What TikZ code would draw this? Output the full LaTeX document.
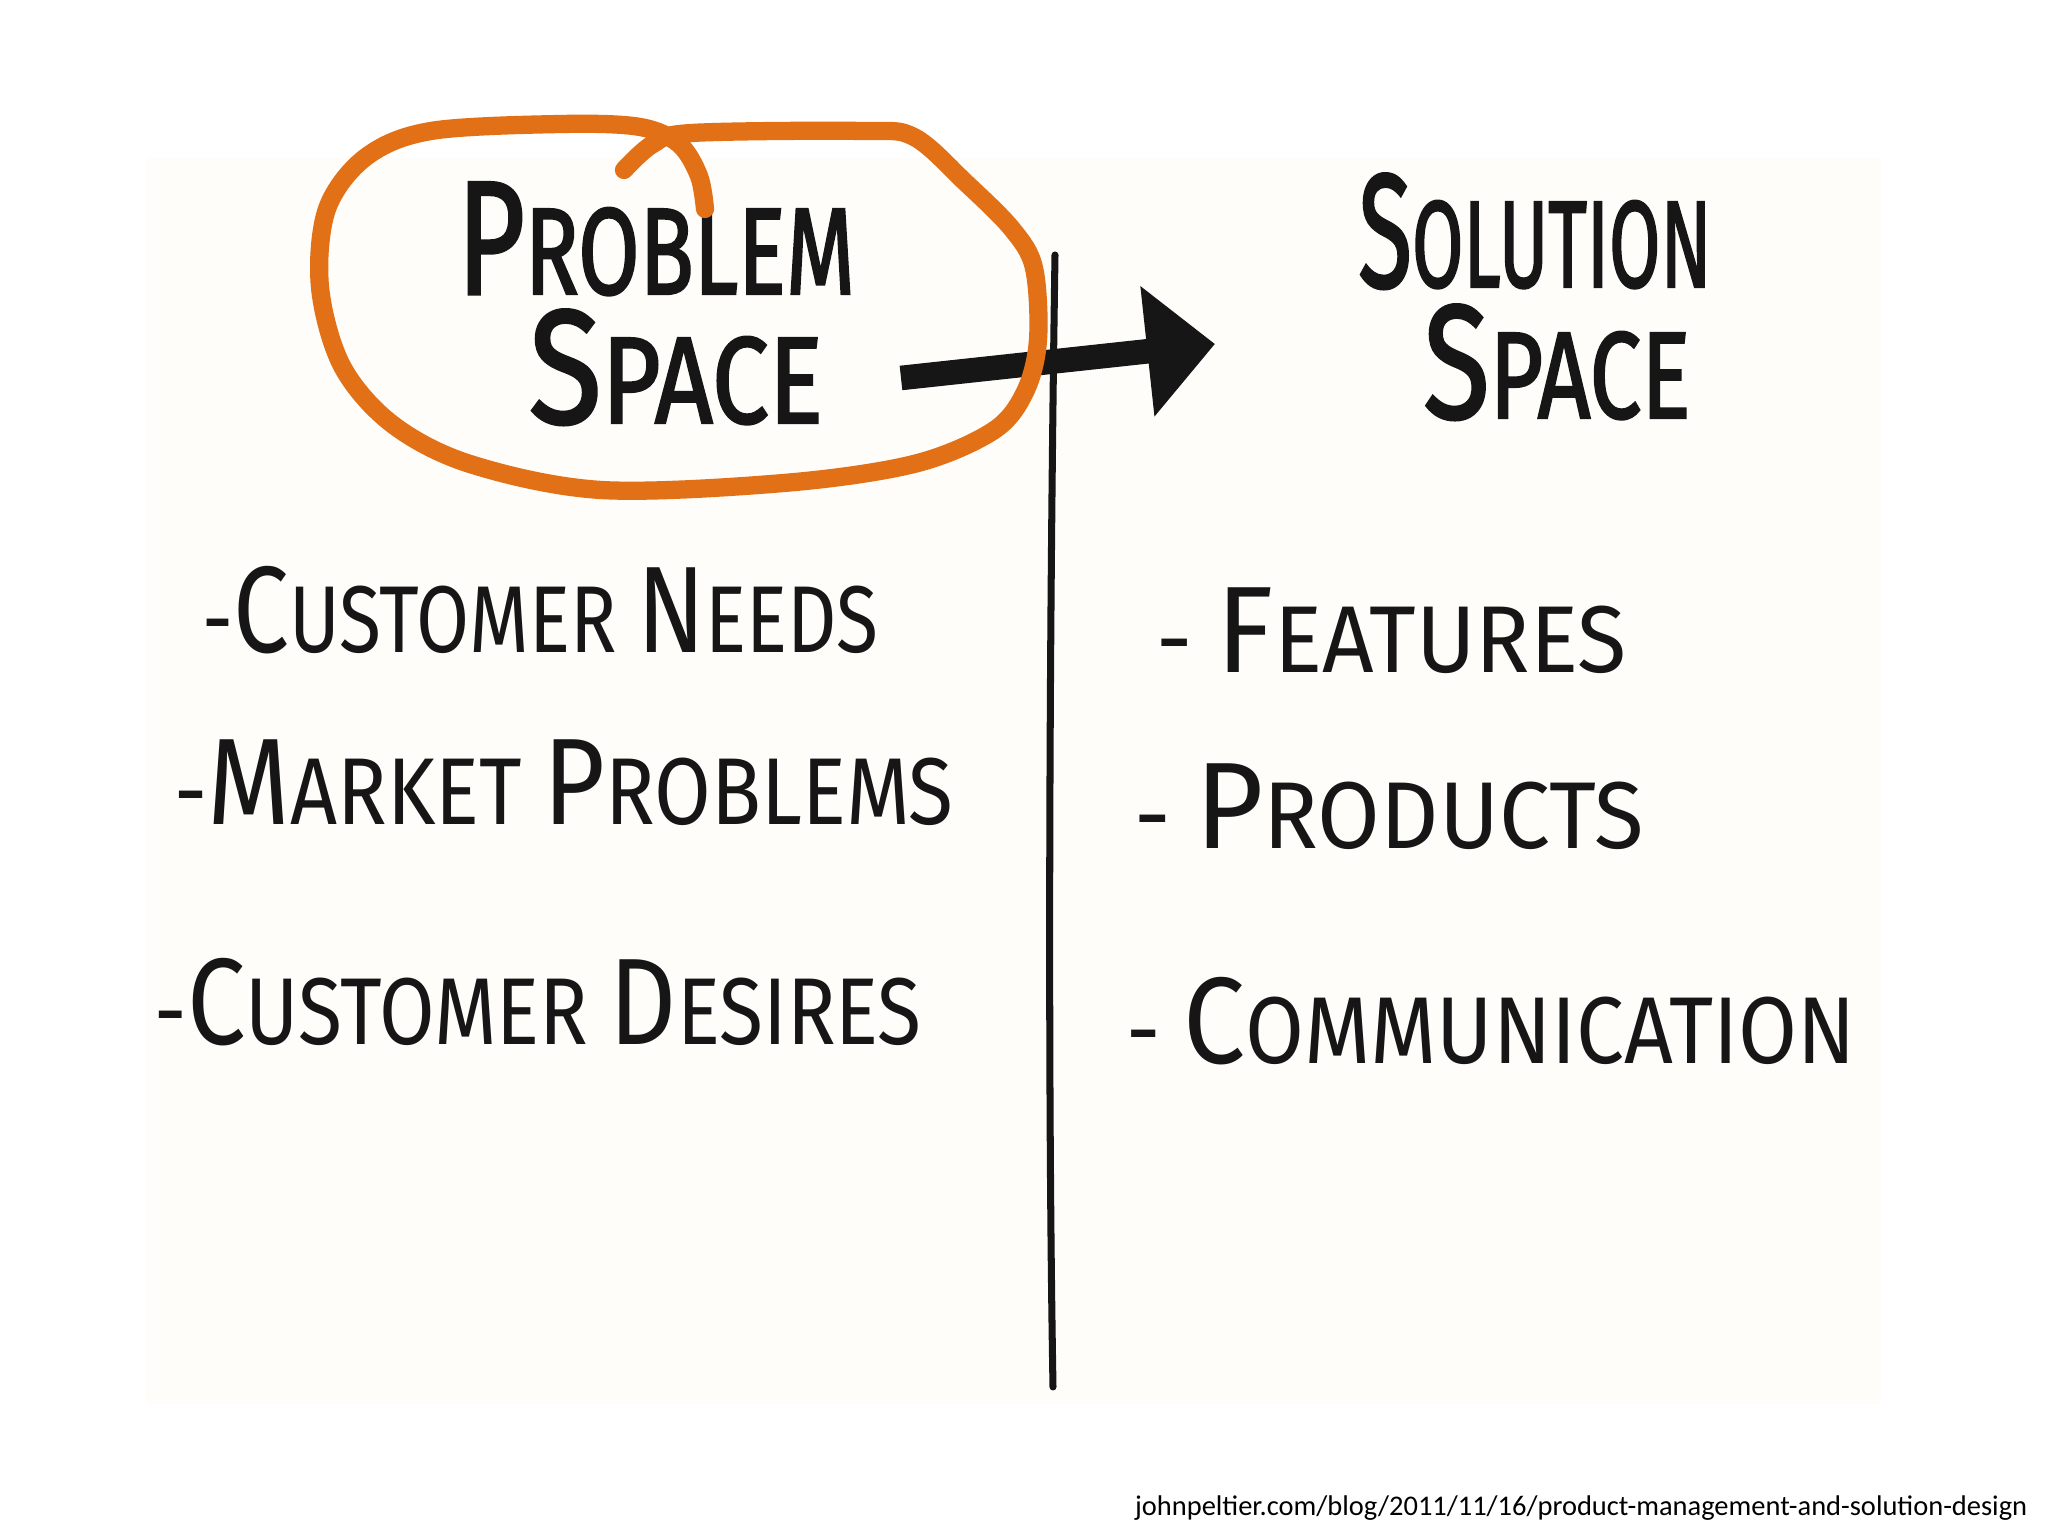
\documentclass[tikz,border=0pt]{standalone}
\usepackage{fontspec}
\setmainfont{Fira Sans}
\newfontfamily\headfont{Fira Sans}[FakeBold=2]
\newfontfamily\urlfont{Carlito}
\usepackage{graphicx}
\usetikzlibrary{arrows.meta}
\definecolor{marker}{RGB}{22,22,22}
\definecolor{ringorange}{RGB}{226,112,22}
\definecolor{paper}{RGB}{254,253,250}
\newcommand{\squeeze}[2]{\resizebox{#1}{\height}{#2}}
\newcommand{\headini}[1]{{\fontsize{46}{46}\selectfont #1}}
\newcommand{\itemini}[1]{{\fontsize{35}{35}\selectfont #1}}
\tikzset{
  heading/.style={font=\headfont\fontsize{35}{40}\selectfont, text=marker, inner sep=0pt, anchor=base},
  listitem/.style={font=\fontsize{27}{30}\selectfont, text=marker, inner sep=0pt, anchor=base west},
}
\begin{document}
\begin{tikzpicture}
    \useasboundingbox (0,0) rectangle (20.48,15.36);
    \fill[white] (0,0) rectangle (20.48,15.36);
    \fill[paper] (1.46,1.32) rectangle (18.81,13.79);

    % headings
    \node[heading] (prob1) at (6.56,12.42) {\squeeze{3.98cm}{\headini{P}ROBLEM}};
    \node[heading] (prob2) at (6.76,11.13) {\squeeze{2.94cm}{\headini{S}PACE}};
    \node[heading] (sol1) at (15.35,12.49) {\squeeze{3.53cm}{\headini{S}OLUTION}};
    \node[heading] (sol2) at (15.57,11.18) {\squeeze{2.67cm}{\headini{S}PACE}};

    % problem side
    \node[listitem] (needs) at (2.02,8.83) {\squeeze{6.76cm}{-\itemini{C}USTOMER \itemini{N}EEDS}};
    \node[listitem] (market) at (1.74,7.11) {\squeeze{7.79cm}{-\itemini{M}ARKET \itemini{P}ROBLEMS}};
    \node[listitem] (desires) at (1.54,4.91) {\squeeze{7.67cm}{-\itemini{C}USTOMER \itemini{D}ESIRES}};

    % solution side
    \node[listitem] (features) at (11.56,8.63) {\squeeze{4.70cm}{- \itemini{F}EATURES}};
    \node[listitem] (products) at (11.34,6.87) {\squeeze{5.09cm}{- \itemini{P}RODUCTS}};
    \node[listitem] (comms) at (11.26,4.72) {\squeeze{7.29cm}{- \itemini{C}OMMUNICATION}};

    \node[font=\urlfont\fontsize{8.1}{9}\selectfont, anchor=base east, inner sep=0pt] (url) at (20.28,0.20)
      {johnpeltier.com/blog/2011/11/16/product-management-and-solution-design};

    % divider
    \coordinate (divtop) at (10.55,12.81);
    \coordinate (divbot) at (10.53,1.49);
    \draw[marker, line width=2pt, line cap=round] (divtop) .. controls (10.50,9.5) and (10.47,5) .. (divbot);

    % arrow
    \coordinate (arrowtail) at (9.01,11.58);
    \coordinate (arrowtip) at (12.15,11.92);
    \draw[marker, line width=7pt, -{Triangle[length=0.68cm,width=1.27cm]}] (arrowtail) -- (arrowtip);

    % orange ring
    \draw[ringorange, line width=5.2pt, line cap=round, line join=round] plot[smooth, tension=0.55] coordinates {
      (6.24,13.66) (6.53,13.92) (6.92,14.03) (8.62,14.05) (9.14,13.99) (9.66,13.53)
      (10.12,13.07) (10.34,12.68) (10.38,11.96) (10.25,11.44) (9.93,11.05) (9.14,10.72)
      (7.84,10.53) (6.01,10.46) (4.70,10.72) (3.92,11.12) (3.42,11.70) (3.20,12.49)
      (3.27,13.27) (3.66,13.79) (4.31,14.05) (5.62,14.12) (6.40,14.09) (6.79,13.92)
      (6.99,13.60) (7.05,13.27)};
\end{tikzpicture}
\end{document}
